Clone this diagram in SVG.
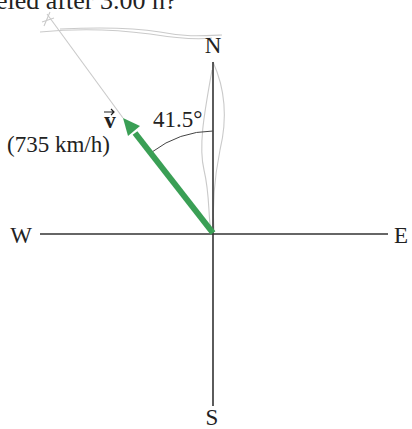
<svg xmlns="http://www.w3.org/2000/svg" width="412" height="429" viewBox="0 0 412 429">
<style>
.t{font-family:"Liberation Serif","Times New Roman",serif;font-size:23px;fill:#222}
.ax{stroke:#333;stroke-width:1.6;fill:none}
.sk{stroke:#cacaca;stroke-width:1.1;fill:none}
</style>
<rect width="412" height="429" fill="#fff"/>
<text class="t" x="-4" y="9" style="font-size:26px">eled after 3.00 h?</text>
<g id="sketch">
<path class="sk" d="M47,14 L123,118"/>
<path class="sk" d="M42,22 L54,18 M44,26 L50,12"/>
<path class="sk" d="M40,32 C80,28 120,30 150,34 C175,38 195,40 212,38"/>
<path class="sk" d="M60,29 C100,27 130,27 160,32 C185,37 200,36 222,35"/>
<path class="sk" d="M213,62 C228,95 226,125 220,150 C214,180 212,205 214,232"/>
<path class="sk" d="M212,70 C205,110 198,145 204,170 C210,195 208,215 211,232"/>
</g>
<g id="connectors">
<line class="ax" x1="40" y1="234" x2="388" y2="234"/>
<line class="ax" x1="213" y1="62" x2="213" y2="406"/>
<path d="M213,131 A103,103 0 0 0 152,152" stroke="#444" stroke-width="1" fill="none"/>
<line x1="213" y1="233" x2="135" y2="133" stroke="#3a9f55" stroke-width="6"/>
<polygon points="123,118 140,126 128,136" fill="#3a9f55"/>
</g>
<g id="N"><text class="t" x="213" y="53" text-anchor="middle">N</text></g>
<g id="S"><text class="t" x="212" y="425" text-anchor="middle">S</text></g>
<g id="W"><text class="t" x="21" y="243" text-anchor="middle">W</text></g>
<g id="E"><text class="t" x="401" y="243" text-anchor="middle">E</text></g>
<g id="v"><text class="t" x="110" y="128" text-anchor="middle" font-weight="bold">v</text><path d="M104,112 L114,112 M111,109 L114,112 L111,115" stroke="#222" stroke-width="1.2" fill="none"/></g>
<g id="speed"><text class="t" x="7" y="152">(735 km/h)</text></g>
<g id="angle"><text class="t" x="153" y="127">41.5°</text></g>
</svg>
